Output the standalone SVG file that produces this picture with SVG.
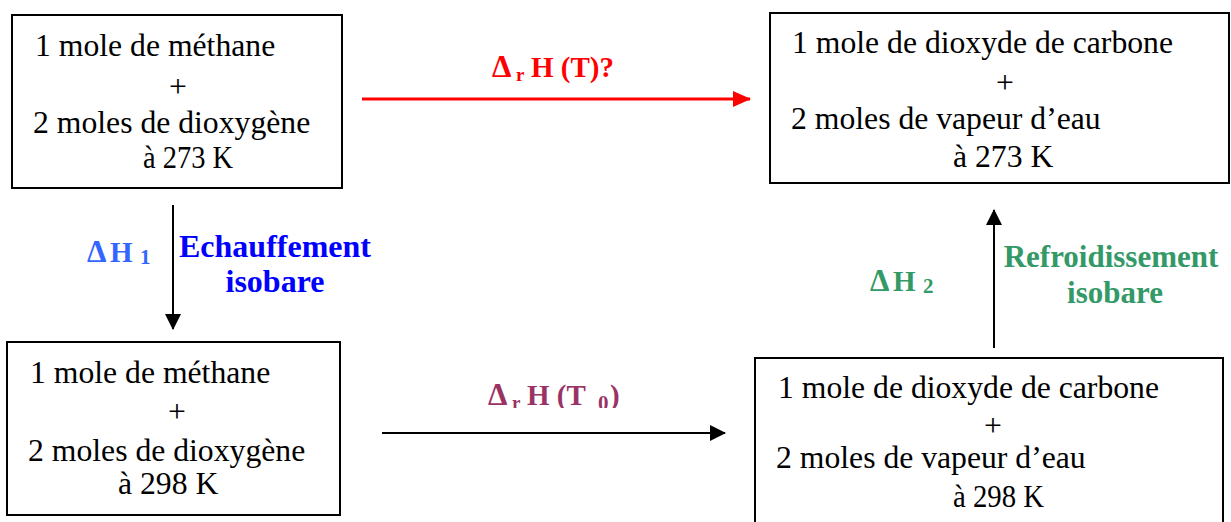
<svg xmlns="http://www.w3.org/2000/svg" width="1231" height="522" viewBox="0 0 1231 522">
<style>
.box{fill:#fff;stroke:#000;stroke-width:2}
.t{font-family:"Liberation Serif","Times New Roman",serif;font-size:31.7px;fill:#000}
.b{font-family:"Liberation Serif","Times New Roman",serif;font-weight:bold}
.conn{stroke:#000;stroke-width:2;fill:none}
</style>
<defs>
<marker id="ah" markerWidth="16" markerHeight="16" refX="15" refY="8" orient="auto" markerUnits="userSpaceOnUse"><path d="M0,0 L16,8 L0,16 Z" fill="#000"/></marker>
<marker id="ahr" markerWidth="18" markerHeight="16" refX="17" refY="8" orient="auto" markerUnits="userSpaceOnUse"><path d="M0,0 L18,8 L0,16 Z" fill="#f00"/></marker>
<clipPath id="clipT0"><rect x="480" y="370" width="160" height="38"/></clipPath>
</defs>
<rect width="1231" height="522" fill="#fff"/>

<g id="connectors">
<line x1="362" y1="99" x2="750" y2="99" stroke="#f00" stroke-width="3" marker-end="url(#ahr)"/>
<line class="conn" x1="173" y1="205" x2="173" y2="329" marker-end="url(#ah)"/>
<line class="conn" x1="994" y1="348" x2="994" y2="210" marker-end="url(#ah)"/>
<line class="conn" x1="382" y1="433" x2="725" y2="433" marker-end="url(#ah)"/>
</g>

<g id="label-drHT">
<text class="b" font-size="29" fill="#f00" y="77"><tspan x="492" font-size="31">Δ</tspan><tspan x="516" dy="4" font-size="19">r</tspan><tspan x="531" dy="-4">H (T)?</tspan></text>
</g>
<g id="label-dH1">
<text class="b" font-size="29" fill="#3366ff" y="262"><tspan x="87" font-size="31">Δ</tspan><tspan x="110">H</tspan><tspan x="140" dy="2" font-size="21">1</tspan></text>
<text class="b" font-size="32" fill="#0000ff" text-anchor="middle"><tspan x="275" y="257">Echauffement</tspan><tspan x="275" y="292">isobare</tspan></text>
</g>
<g id="label-dH2">
<text class="b" font-size="29" fill="#339966" y="291"><tspan x="870" font-size="31">Δ</tspan><tspan x="893">H</tspan><tspan x="923" dy="2" font-size="21">2</tspan></text>
<text class="b" font-size="31" fill="#339966" text-anchor="middle"><tspan x="1111" y="267">Refroidissement</tspan><tspan x="1115" y="303">isobare</tspan></text>
</g>
<g id="label-drHT0" clip-path="url(#clipT0)">
<text class="b" font-size="29" fill="#993366" y="405"><tspan x="488" font-size="31">Δ</tspan><tspan x="512" dy="4" font-size="19">r</tspan><tspan x="527" dy="-4">H (T</tspan><tspan x="598" dy="5" font-size="21">0</tspan><tspan x="610" dy="-5">)</tspan></text>
</g>

<g id="node-reactifs-273">
<rect class="box" x="12" y="15" width="330" height="173"/>
<text class="t"><tspan x="35" y="56">1 mole de méthane</tspan><tspan x="178" y="97" text-anchor="middle">+</tspan><tspan x="33" y="133">2 moles de dioxygène</tspan></text>
<text class="t" x="143" y="168" textLength="90" lengthAdjust="spacingAndGlyphs">à 273 K</text>
</g>
<g id="node-produits-273">
<rect class="box" x="770" y="13" width="459" height="170"/>
<text class="t"><tspan x="792" y="53">1 mole de dioxyde de carbone</tspan><tspan x="1005" y="93" text-anchor="middle">+</tspan><tspan x="791" y="129">2 moles de vapeur d’eau</tspan></text>
<text class="t" x="953" y="167">à 273 K</text>
</g>
<g id="node-reactifs-298">
<rect class="box" x="7" y="342" width="333" height="173"/>
<text class="t"><tspan x="30" y="383">1 mole de méthane</tspan><tspan x="177" y="422" text-anchor="middle">+</tspan><tspan x="28" y="461">2 moles de dioxygène</tspan></text>
<text class="t" x="118" y="494">à 298 K</text>
</g>
<g id="node-produits-298">
<rect class="box" x="755" y="358" width="468" height="180"/>
<text class="t"><tspan x="778" y="398">1 mole de dioxyde de carbone</tspan><tspan x="993" y="436" text-anchor="middle">+</tspan><tspan x="776" y="468">2 moles de vapeur d’eau</tspan></text>
<text class="t" x="953" y="507" textLength="91" lengthAdjust="spacingAndGlyphs">à 298 K</text>
</g>
</svg>
